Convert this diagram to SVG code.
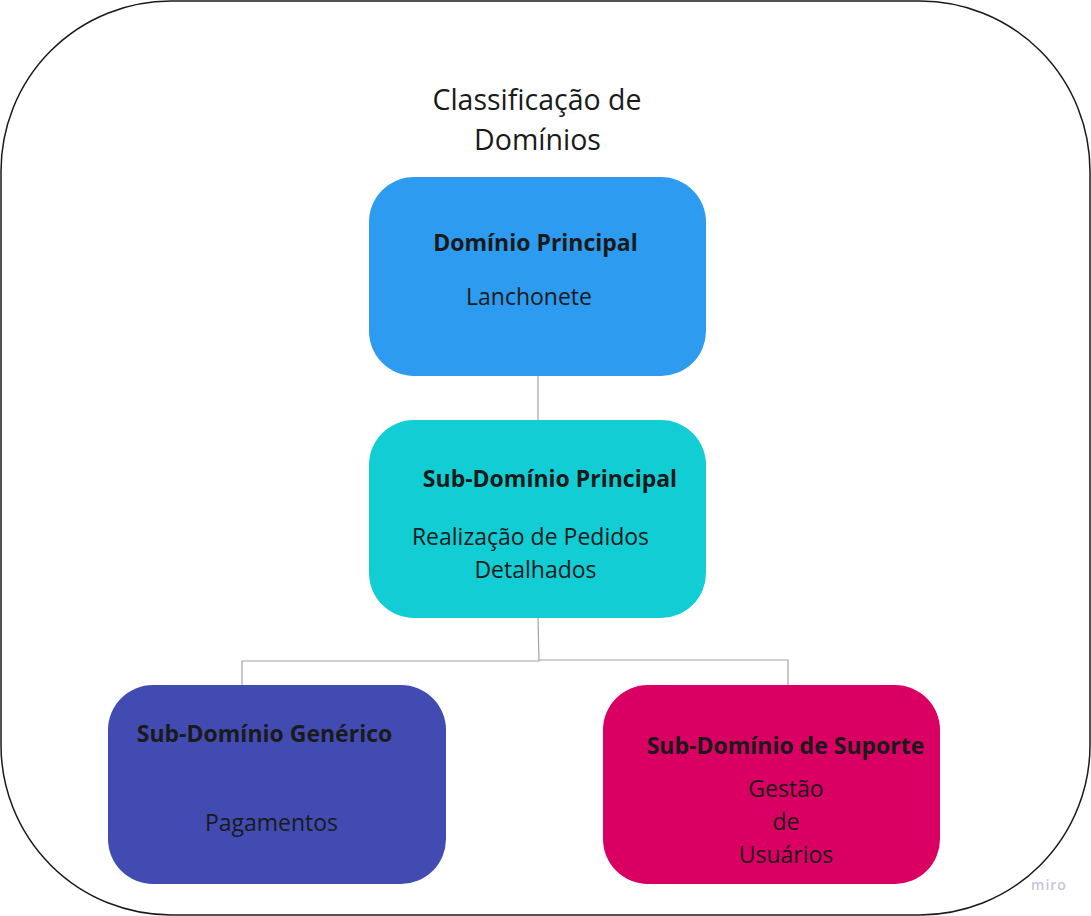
<svg xmlns="http://www.w3.org/2000/svg" width="1091" height="916" viewBox="0 0 1091 916">
<style>
text{font-family:"Open Sans","Liberation Sans",sans-serif;fill:#1a1a1a;text-anchor:middle}
.t{font-size:28.5px}
.b{font-size:23px;font-weight:bold}
.r{font-size:23px}
.c{fill:none;stroke:#a3a3a3;stroke-width:1.2}
</style>
<rect x="1" y="1" width="1089" height="914" rx="170" ry="170" fill="#ffffff" stroke="#1a1a1a" stroke-width="1.5"/>
<g id="title">
<text class="t" x="537" y="110">Classificação de</text>
<text class="t" x="537.5" y="150">Domínios</text>
</g>
<g id="connectors">
<path class="c" d="M538 376 L538 420"/>
<path class="c" d="M538 618 L539 661 L242 661 L242 686"/>
<path class="c" d="M539 660 L788 660 L788 686"/>
</g>
<g id="dominio-principal">
<rect x="369" y="177" width="337" height="199" rx="45" fill="#2d9bf0"/>
<text class="b" x="535.5" y="251">Domínio Principal</text>
<text class="r" x="529" y="305">Lanchonete</text>
</g>
<g id="sub-dominio-principal">
<rect x="369" y="420" width="337" height="198" rx="45" fill="#12cdd4"/>
<text class="b" x="550" y="487">Sub-Domínio Principal</text>
<text class="r" x="530.5" y="545">Realização de Pedidos</text>
<text class="r" x="535.5" y="578">Detalhados</text>
</g>
<g id="sub-dominio-generico">
<rect x="108" y="685" width="338" height="199" rx="45" fill="#414bb2"/>
<text class="b" x="264.5" y="742">Sub-Domínio Genérico</text>
<text class="r" x="271.5" y="831">Pagamentos</text>
</g>
<g id="sub-dominio-suporte">
<rect x="603" y="685" width="337" height="199" rx="45" fill="#da0063"/>
<text class="b" x="785.5" y="754">Sub-Domínio de Suporte</text>
<text class="r" x="786" y="797">Gestão</text>
<text class="r" x="786" y="830">de</text>
<text class="r" x="786" y="863">Usuários</text>
</g>
<text x="1049" y="890" style="font-size:14px;font-weight:600;fill:#c5c5d6;letter-spacing:1px">miro</text>
</svg>
